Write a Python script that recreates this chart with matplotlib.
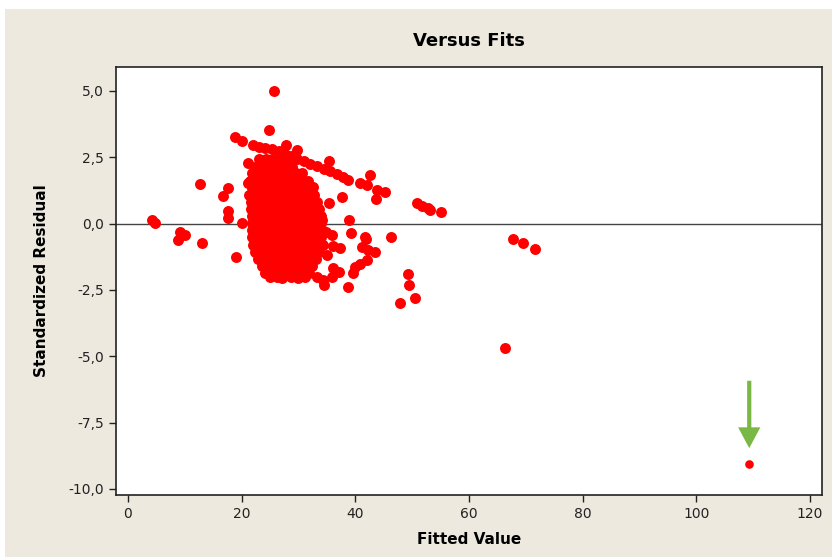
import matplotlib
matplotlib.use("Agg")
import matplotlib.pyplot as plt
from matplotlib.patches import Rectangle, FancyArrowPatch
from matplotlib.ticker import FuncFormatter

# dense block of observations, one row per residual level: (residual, [fitted values])
core_rows = [
    (2.45, [23.0, 24.3, 25.6, 26.9, 28.2]),
    (2.15, [22.3, 23.6, 25.0, 26.3, 27.5, 28.8]),
    (1.90, [21.8, 23.0, 24.4, 25.7, 26.9, 28.1, 29.5, 30.7]),
    (1.62, [21.5, 22.7, 24.0, 25.3, 26.5, 27.8, 29.0, 30.4, 31.6]),
    (1.35, [21.9, 23.2, 24.6, 25.9, 27.1, 28.4, 29.7, 31.0, 32.4]),
    (1.08, [21.3, 22.6, 23.9, 25.2, 26.4, 27.7, 29.0, 30.3, 31.5, 32.8]),
    (0.82, [21.7, 23.0, 24.3, 25.6, 26.9, 28.1, 29.4, 30.7, 31.9, 33.2]),
    (0.55, [21.6, 22.5, 23.8, 25.1, 26.4, 27.6, 28.9, 30.2, 31.4, 32.6, 33.6]),
    (0.28, [21.8, 22.9, 24.2, 25.5, 26.8, 28.0, 29.3, 30.6, 31.9, 33.1, 34.0]),
    (0.02, [21.9, 22.4, 23.7, 25.0, 26.3, 27.5, 28.8, 30.1, 31.3, 32.6, 33.9]),
    (-0.25, [21.8, 22.8, 24.1, 25.4, 26.6, 27.9, 29.2, 30.5, 31.8, 33.0, 34.2]),
    (-0.52, [21.9, 22.5, 23.8, 25.0, 26.3, 27.6, 28.9, 30.2, 31.4, 32.7, 34.0]),
    (-0.80, [22.0, 23.0, 24.3, 25.6, 26.8, 28.1, 29.4, 30.7, 32.0, 33.3, 34.3]),
    (-1.07, [22.3, 23.4, 24.7, 26.0, 27.2, 28.5, 29.8, 31.1, 32.4, 33.6]),
    (-1.33, [22.8, 24.1, 25.3, 26.6, 27.9, 29.2, 30.4, 31.7, 33.0]),
    (-1.60, [23.5, 24.8, 26.0, 27.3, 28.6, 29.9, 31.2, 32.4]),
    (-1.85, [24.2, 25.5, 26.8, 28.1, 29.4, 30.7, 31.9]),
    (-2.00, [25.0, 26.2, 28.7, 29.9]),
]

# diagonal streak running down from the top of the cluster
band_fits = [22.0, 23.0, 24.2, 25.3, 26.5, 27.6, 28.7, 29.8, 31.0, 32.1,
             33.3, 34.5, 35.6, 36.7, 37.8, 38.8]
band_resid = [2.96, 2.90, 2.85, 2.80, 2.72, 2.62, 2.55, 2.45, 2.36, 2.26,
              2.17, 2.07, 1.98, 1.88, 1.75, 1.64]

# remaining individual observations
other_fits = [4.2, 4.75, 9.15, 10.0, 8.8, 13.0, 12.7, 16.7, 17.6, 17.6,
              17.6, 18.8, 20.1, 19.0, 20.1, 21.1, 21.1, 25.7, 24.8, 27.8,
              29.7, 35.4, 42.6, 40.8, 42.0, 43.8, 45.2, 43.6, 37.7, 35.4,
              32.6, 38.9, 34.1, 39.2, 35.9, 41.7, 41.9, 46.3, 36.1, 37.3,
              41.2, 42.2, 43.5, 42.0, 40.8, 39.9, 39.6, 36.1, 37.1, 33.3,
              34.3, 35.9, 34.5, 38.7, 31.1, 27.1, 30.0, 35.0, 34.8, 49.3,
              49.4, 47.9, 50.5, 50.9, 51.7, 52.8, 53.1, 55.1, 67.7, 69.5,
              71.6, 66.3]
other_resid = [0.14, 0.03, -0.31, -0.43, -0.61, -0.75, 1.50, 1.04, 1.35, 0.48,
               0.21, 3.27, 3.11, -1.26, 0.03, 2.29, 1.51, 5.01, 3.53, 2.96,
               2.78, 2.36, 1.84, 1.53, 1.46, 1.27, 1.20, 0.93, 1.00, 0.78,
               1.38, 0.14, 0.14, -0.35, -0.43, -0.50, -0.60, -0.50, -0.84, -0.92,
               -0.88, -0.99, -1.06, -1.37, -1.52, -1.63, -1.86, -1.67, -1.82, -2.00,
               -2.12, -2.00, -2.31, -2.39, -2.00, -2.05, -2.05, -1.20, -0.30, -1.90,
               -2.31, -2.99, -2.80, 0.78, 0.67, 0.59, 0.52, 0.44, -0.58, -0.73,
               -0.96, -4.69]

# the unusual observation flagged by the arrow
outlier_fit = 109.3
outlier_resid = -9.06

x_ticks = [0, 20, 40, 60, 80, 100, 120]
y_ticks = [5.0, 2.5, 0.0, -2.5, -5.0, -7.5, -10.0]

BG = "#EDE9DF"
RED = "#FF0000"
GREEN = "#79B845"

fits, resid = [], []
for r, xs in core_rows:
    fits += xs
    resid += [r] * len(xs)
fits += band_fits + other_fits
resid += band_resid + other_resid

fig = plt.figure(figsize=(8.32, 5.6), dpi=100)
fig.patch.set_facecolor("white")
fig.add_artist(Rectangle((5 / 832, 3 / 560), 1 - 5 / 832, 1 - 12 / 560,
                         transform=fig.transFigure, facecolor=BG,
                         edgecolor="none", zorder=-10))

ax = fig.add_axes([116 / 832, 1 - 495 / 560, (822 - 116) / 832, (495 - 67) / 560])
ax.set_facecolor("white")

ax.axhline(0, color="#444444", lw=1.0, zorder=1)
ax.plot(fits, resid, "o", color=RED, markersize=7.9, markeredgewidth=0, zorder=3)
ax.plot([outlier_fit], [outlier_resid], "o", color=RED, markersize=6.2,
        markeredgewidth=0, zorder=3)

arrow = FancyArrowPatch((outlier_fit, -5.82), (outlier_fit, -8.57),
                        arrowstyle="simple,head_length=1.5,head_width=1.6,tail_width=0.3",
                        mutation_scale=10, color=GREEN, lw=0, zorder=4)
ax.add_patch(arrow)

ax.set_xlim(-2.1, 122.1)
ax.set_ylim(-10.23, 5.9)
ax.set_xticks(x_ticks)
ax.set_yticks(y_ticks)
ax.yaxis.set_major_formatter(FuncFormatter(lambda v, p: f"{v:.1f}".replace(".", ",")))
ax.tick_params(direction="out", length=5, width=1, labelsize=10, colors="#222222")
for s in ax.spines.values():
    s.set_color("#222222")
    s.set_linewidth(1.2)

ax.set_title("Versus Fits", fontsize=13, fontweight="bold", pad=15)
ax.set_xlabel("Fitted Value", fontsize=11, fontweight="bold", labelpad=8)
ax.set_ylabel("Standardized Residual", fontsize=11, fontweight="bold", labelpad=14)

fig.savefig("out.png", dpi=100, facecolor=fig.get_facecolor())
